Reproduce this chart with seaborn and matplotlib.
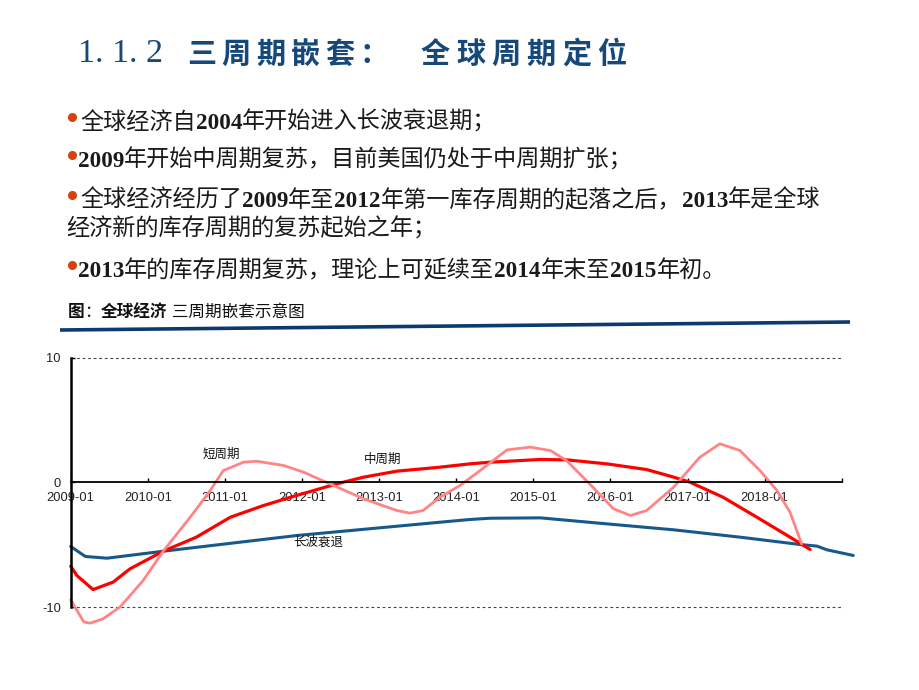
import numpy as np
import pandas as pd
import matplotlib
matplotlib.use("Agg")
import matplotlib.pyplot as plt
import seaborn as sns
from matplotlib.lines import Line2D

# ---------------- data ----------------
long_x = [2009.00, 2009.19, 2009.47, 2010.20, 2011.93, 2013.79, 2014.18, 2014.44,
          2015.09, 2015.95, 2016.82, 2017.68, 2018.46, 2018.68, 2018.81, 2019.15]
long_y = [-5.14, -5.94, -6.08, -5.52, -4.26, -3.19, -2.97, -2.87,
          -2.84, -3.32, -3.80, -4.39, -4.98, -5.11, -5.41, -5.86]

mid_x = [2009.00, 2009.08, 2009.29, 2009.55, 2009.77, 2010.20, 2010.63, 2011.07,
         2011.50, 2011.93, 2012.45, 2012.80, 2013.23, 2013.79, 2014.18, 2014.44,
         2015.09, 2015.43, 2015.95, 2016.47, 2016.82, 2017.03, 2017.46, 2017.90,
         2018.33, 2018.59]
mid_y = [-6.72, -7.47, -8.60, -8.00, -6.93, -5.52, -4.39, -2.79,
         -1.85, -1.04, -0.11, 0.43, 0.91, 1.23, 1.50, 1.63,
         1.85, 1.82, 1.50, 1.04, 0.43, 0.03, -1.18, -2.79,
         -4.39, -5.38]

short_x = [2009.00, 2009.17, 2009.25, 2009.42, 2009.64, 2009.94, 2010.20, 2010.55,
           2010.81, 2010.98, 2011.24, 2011.41, 2011.76, 2012.02, 2012.36, 2012.80,
           2013.23, 2013.40, 2013.57, 2013.79, 2014.05, 2014.31, 2014.66, 2014.96,
           2015.22, 2015.43, 2015.73, 2016.04, 2016.26, 2016.47, 2016.82, 2017.16,
           2017.42, 2017.68, 2017.94, 2018.16, 2018.33, 2018.48]
short_y = [-9.42, -11.2, -11.3, -10.95, -10.0, -7.87, -5.52, -2.79,
           -0.64, 0.96, 1.63, 1.71, 1.37, 0.83, -0.11, -1.31,
           -2.25, -2.46, -2.25, -1.18, -0.24, 0.96, 2.62, 2.84,
           2.57, 1.77, -0.11, -2.11, -2.65, -2.25, -0.38, 2.03,
           3.11, 2.57, 0.96, -0.64, -2.39, -4.93]

series_names = ["长波衰退", "中周期", "短周期"]
year_ticks = list(range(2009, 2020))
year_labels = ["2009-01", "2010-01", "2011-01", "2012-01", "2013-01", "2014-01",
               "2015-01", "2016-01", "2017-01", "2018-01", ""]
y_ticks = [-10, 0, 10]
y_labels = ["-10", "0", "10"]

title_num = "1. 1. 2"
title_part1 = "三周期嵌套："
title_part2 = "全球周期定位"
bullet_lines = [
    [("全球经济自", False), ("2004", True), ("年开始进入长波衰退期；", False)],
    [("2009", True), ("年开始中周期复苏，目前美国仍处于中周期扩张；", False)],
    [("全球经济经历了", False), ("2009", True), ("年至", False), ("2012", True),
     ("年第一库存周期的起落之后，", False), ("2013", True), ("年是全球", False)],
    [("经济新的库存周期的复苏起始之年；", False)],
    [("2013", True), ("年的库存周期复苏，理论上可延续至", False), ("2014", True),
     ("年末至", False), ("2015", True), ("年初。", False)],
]
caption_runs = [("图", True), ("：", False), ("全球经济", True), (" 三周期嵌套示意图", False)]

# ---------------- style ----------------
sns.set_theme(style="white")
plt.rcParams["font.family"] = ["Liberation Sans", "Noto Sans CJK SC", "DejaVu Sans"]
plt.rcParams["axes.unicode_minus"] = False

W, H = 920, 690
fig = plt.figure(figsize=(9.2, 6.9), dpi=100)
fig.patch.set_facecolor("white")
renderer = fig.canvas.get_renderer()

CJK = ["Noto Sans CJK SC", "DejaVu Sans"]
SERIF = ["Liberation Serif", "DejaVu Serif"]
title_color = "#16487A"
text_color = "#1a1a1a"

# ---------------- title ----------------
fig.text(78 / W, 1 - 54 / H, title_num, fontsize=24.5, family=SERIF,
         color=title_color, va="center", ha="left")
for i, ch in enumerate(title_part1):
    fig.text((187 + i * 34.5) / W, 1 - 54 / H, ch, fontsize=21, fontweight="bold",
             family=CJK, color=title_color, va="center", ha="left")
for i, ch in enumerate(title_part2):
    fig.text((421 + i * 35.2) / W, 1 - 54 / H, ch, fontsize=21, fontweight="bold",
             family=CJK, color=title_color, va="center", ha="left")


def draw_runs(x_px, base_px, runs, size, digits_serif=True, color=text_color):
    x = x_px
    for txt, bold in runs:
        fam = SERIF if (bold and digits_serif) else CJK
        t = fig.text(x / W, 1 - base_px / H, txt, fontsize=size,
                     fontweight="bold" if bold else "normal", family=fam,
                     color=color, va="baseline", ha="left")
        x += t.get_window_extent(renderer).width
    return x


# ---------------- bullets ----------------
line_x = [80, 78, 80, 66, 78]
line_base = [129, 167, 207, 236, 277]
bullet_flags = [True, True, True, False, True]
for runs, lx, lb, has_b in zip(bullet_lines, line_x, line_base, bullet_flags):
    draw_runs(lx, lb, runs, 16.7)
    if has_b:
        fig.add_artist(Line2D([72 / W], [1 - (lb - 12) / H], marker="o", ms=5.5,
                              color="#D8400E", transform=fig.transFigure))

# ---------------- caption + rule ----------------
draw_runs(68, 317, caption_runs, 12, digits_serif=False, color="#111111")
fig.add_artist(Line2D([60 / W, 850 / W], [1 - 330 / H, 1 - 322 / H], lw=2.6,
                      color="#0B3A6E", transform=fig.transFigure, solid_capstyle="butt"))

# ---------------- chart ----------------
ax = fig.add_axes([70.7 / W, 1 - 607 / H, (841.7 - 70.7) / W, (607 - 358) / H])
ax.set_facecolor("white")

df_long = pd.DataFrame({"x": long_x, "y": long_y})
df_mid = pd.DataFrame({"x": mid_x, "y": mid_y})
df_short = pd.DataFrame({"x": short_x, "y": short_y})

sns.lineplot(data=df_long, x="x", y="y", ax=ax, color="#17598A", lw=2.2,
             estimator=None, sort=False)
sns.lineplot(data=df_mid, x="x", y="y", ax=ax, color="#FF0000", lw=2.3,
             estimator=None, sort=False)
sns.lineplot(data=df_short, x="x", y="y", ax=ax, color="#FF8585", lw=2.0,
             estimator=None, sort=False)
for ln in ax.lines:
    ln.set_clip_on(False)
    ln.set_solid_joinstyle("round")

ax.set_xlim(2009, 2019)
ax.set_ylim(-10, 10)
ax.set_xlabel("")
ax.set_ylabel("")

for y in (10, -10):
    ax.axhline(y, color="#444444", lw=0.8, ls=(0, (2.5, 2.5)), clip_on=False, zorder=0.5)

ax.spines["top"].set_visible(False)
ax.spines["right"].set_visible(False)
ax.spines["bottom"].set_position(("data", 0))
ax.spines["bottom"].set_color("black")
ax.spines["bottom"].set_linewidth(1.3)
ax.spines["left"].set_color("black")
ax.spines["left"].set_linewidth(1.8)

ax.set_xticks(year_ticks)
ax.set_xticklabels(year_labels)
ax.set_yticks(y_ticks)
ax.set_yticklabels(y_labels)
ax.tick_params(axis="x", direction="in", length=3, width=1, pad=7,
               labelsize=9.3, colors="black", bottom=True)
ax.tick_params(axis="y", direction="in", length=3, width=1, pad=7,
               labelsize=9.3, colors="black", left=True)
for lab in ax.get_xticklabels() + ax.get_yticklabels():
    lab.set_color("#222222")

ax.text(2010.95, 2.25, series_names[2], ha="center", va="center", fontsize=9,
        family=CJK, color="#111111")
ax.text(2013.05, 1.85, series_names[1], ha="center", va="center", fontsize=9,
        family=CJK, color="#111111")
ax.text(2012.21, -4.82, series_names[0], ha="center", va="center", fontsize=9,
        family=CJK, color="#111111")

fig.savefig("out.png", dpi=100, facecolor="white")
